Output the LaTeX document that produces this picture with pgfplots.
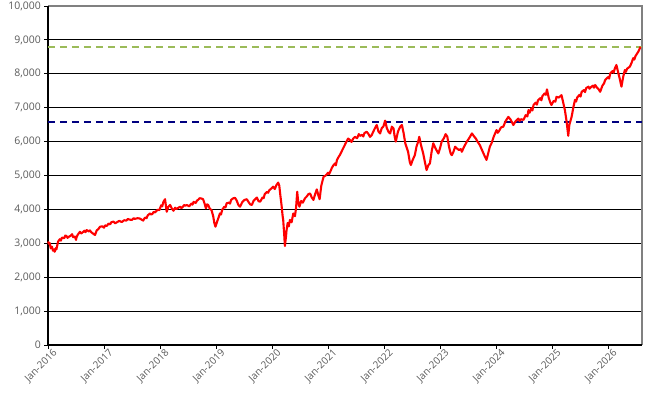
\documentclass[border=0pt]{standalone}
\usepackage{pgfplots}
\pgfplotsset{compat=1.18}
\usepackage{fontspec}
\setmainfont{Open Sans}
\definecolor{lbl}{HTML}{595959}
\definecolor{olivedash}{HTML}{9BBB59}
\definecolor{navydash}{HTML}{000080}
\begin{document}
\begin{tikzpicture}
\path[use as bounding box] (-48bp,-64bp) rectangle (613bp,345bp);
\begin{axis}[
  at={(0,0)}, anchor=south west,
  scale only axis, width=594bp, height=339bp,
  xmin=2016, xmax=2026.607, ymin=0, ymax=10000,
  xtick={2016,2017,2018,2019,2020,2021,2022,2023,2024,2025,2026},
  xticklabels={Jan-2016,Jan-2017,Jan-2018,Jan-2019,Jan-2020,Jan-2021,Jan-2022,Jan-2023,Jan-2024,Jan-2025,Jan-2026},
  x tick label style={rotate=45, anchor=north east, font=\fontsize{10}{12}\selectfont, text=lbl, inner sep=0.5pt, xshift=4bp, yshift=-2bp},
  ytick={0,1000,...,10000},
  y tick label style={font=\fontsize{10.5}{12}\selectfont, text=lbl, inner sep=1pt, xshift=-2bp},
  scaled y ticks=false,
  /pgf/number format/.cd, 1000 sep={,}, assume math mode=true,
  /pgfplots/.cd,
  ymajorgrids, grid style={black, line width=0.8bp},
  tick align=outside, major tick length=4bp,
  tick style={black, line width=0.8bp},
  xtick pos=bottom, ytick pos=left,
  axis line style={draw=none},
  clip=false,
]
\draw[black!50, line width=1.6bp] (rel axis cs:0,1) -- (rel axis cs:1,1) -- (rel axis cs:1,0);
\draw[black, line width=1.6bp] (rel axis cs:0,1) -- (rel axis cs:0,0) -- (rel axis cs:1,0);
\addplot[olivedash, line width=1.8bp, dash pattern=on 7bp off 5bp] coordinates {(2016,8780) (2026.607,8780)};
\addplot[navydash, line width=1.8bp, dash pattern=on 7bp off 5bp] coordinates {(2016,6580) (2026.607,6580)};
\addplot[red, line width=2.1bp, line join=round] table {
x y
2016.00 3050
2016.02 2980
2016.03 3010
2016.05 2850
2016.07 2900
2016.09 2780
2016.11 2820
2016.12 2750
2016.14 2860
2016.15 2820
2016.18 3050
2016.21 3120
2016.23 3080
2016.25 3170
2016.29 3150
2016.31 3230
2016.33 3215
2016.35 3160
2016.37 3190
2016.41 3230
2016.43 3270
2016.45 3180
2016.48 3200
2016.50 3100
2016.51 3180
2016.53 3250
2016.57 3340
2016.59 3290
2016.61 3310
2016.65 3370
2016.67 3330
2016.69 3390
2016.73 3350
2016.75 3380
2016.77 3330
2016.81 3280
2016.84 3245
2016.87 3380
2016.90 3420
2016.93 3490
2016.97 3500
2017.00 3460
2017.02 3530
2017.05 3510
2017.08 3580
2017.11 3560
2017.13 3620
2017.17 3640
2017.20 3590
2017.22 3610
2017.27 3660
2017.30 3640
2017.32 3630
2017.36 3680
2017.40 3670
2017.43 3720
2017.45 3700
2017.50 3690
2017.53 3740
2017.55 3720
2017.60 3740
2017.64 3730
2017.67 3700
2017.70 3670
2017.72 3730
2017.74 3760
2017.76 3740
2017.78 3820
2017.82 3880
2017.84 3850
2017.86 3860
2017.89 3930
2017.91 3910
2017.96 3990
2017.99 3980
2018.02 4120
2018.04 4090
2018.06 4220
2018.09 4300
2018.11 4050
2018.12 3930
2018.15 4080
2018.18 4130
2018.21 4030
2018.24 3960
2018.27 4050
2018.29 4010
2018.31 4030
2018.36 4080
2018.38 4040
2018.40 4060
2018.43 4130
2018.45 4110
2018.48 4130
2018.52 4090
2018.56 4170
2018.58 4140
2018.60 4220
2018.64 4190
2018.66 4260
2018.68 4280
2018.71 4330
2018.74 4320
2018.77 4300
2018.80 4150
2018.82 4030
2018.84 4150
2018.86 4130
2018.89 4020
2018.92 3980
2018.95 3800
2018.97 3600
2018.99 3490
2019.02 3640
2019.05 3780
2019.07 3880
2019.09 3850
2019.11 3990
2019.15 4080
2019.17 4060
2019.19 4180
2019.23 4200
2019.25 4170
2019.27 4280
2019.31 4330
2019.34 4340
2019.37 4260
2019.40 4130
2019.43 4080
2019.47 4220
2019.51 4280
2019.55 4300
2019.58 4220
2019.61 4150
2019.64 4130
2019.67 4250
2019.70 4300
2019.73 4350
2019.76 4240
2019.79 4230
2019.83 4350
2019.85 4330
2019.87 4450
2019.91 4520
2019.93 4490
2019.95 4560
2019.99 4620
2020.02 4670
2020.05 4600
2020.08 4720
2020.11 4790
2020.13 4700
2020.15 4400
2020.17 4130
2020.19 3800
2020.20 3690
2020.22 3200
2020.23 2920
2020.25 3200
2020.26 3390
2020.28 3600
2020.30 3500
2020.32 3690
2020.35 3620
2020.38 3880
2020.41 3800
2020.43 4050
2020.45 4520
2020.47 4200
2020.49 4080
2020.52 4250
2020.55 4200
2020.59 4330
2020.62 4380
2020.65 4450
2020.68 4470
2020.71 4350
2020.74 4280
2020.77 4450
2020.80 4590
2020.83 4400
2020.85 4300
2020.88 4700
2020.92 4960
2020.96 5000
2021.00 5080
2021.02 5040
2021.04 5110
2021.07 5230
2021.10 5310
2021.13 5360
2021.14 5300
2021.16 5460
2021.19 5550
2021.21 5600
2021.24 5700
2021.27 5800
2021.30 5900
2021.33 6000
2021.36 6090
2021.39 6050
2021.42 5990
2021.45 6090
2021.48 6140
2021.52 6100
2021.55 6220
2021.57 6170
2021.61 6200
2021.63 6150
2021.65 6250
2021.69 6290
2021.72 6230
2021.75 6140
2021.78 6190
2021.81 6300
2021.84 6400
2021.87 6490
2021.90 6300
2021.93 6240
2021.96 6400
2021.99 6450
2022.02 6620
2022.05 6400
2022.08 6290
2022.11 6240
2022.14 6440
2022.17 6390
2022.19 6150
2022.21 6000
2022.25 6300
2022.29 6440
2022.32 6490
2022.35 6250
2022.38 5950
2022.41 5800
2022.43 5700
2022.46 5400
2022.48 5310
2022.51 5450
2022.55 5600
2022.58 5850
2022.61 6000
2022.63 6140
2022.66 5900
2022.70 5650
2022.73 5400
2022.76 5160
2022.79 5300
2022.82 5360
2022.85 5700
2022.88 5950
2022.92 5800
2022.97 5650
2023.00 5800
2023.03 6000
2023.07 6100
2023.10 6220
2023.13 6150
2023.16 5850
2023.19 5650
2023.21 5600
2023.24 5700
2023.27 5850
2023.30 5800
2023.34 5750
2023.37 5780
2023.39 5700
2023.43 5850
2023.48 6000
2023.52 6100
2023.57 6240
2023.61 6150
2023.64 6090
2023.67 6000
2023.71 5900
2023.75 5750
2023.79 5600
2023.83 5460
2023.86 5650
2023.89 5850
2023.92 5950
2023.96 6150
2024.01 6340
2024.03 6260
2024.05 6300
2024.09 6420
2024.13 6440
2024.15 6520
2024.17 6600
2024.22 6730
2024.26 6650
2024.31 6490
2024.35 6600
2024.40 6680
2024.42 6610
2024.45 6660
2024.49 6640
2024.53 6780
2024.56 6740
2024.58 6930
2024.60 6850
2024.63 6980
2024.65 6920
2024.67 7080
2024.71 7150
2024.73 7090
2024.75 7220
2024.79 7280
2024.81 7220
2024.83 7350
2024.87 7420
2024.89 7380
2024.91 7540
2024.94 7300
2024.97 7150
2024.99 7080
2025.03 7200
2025.06 7180
2025.08 7320
2025.12 7300
2025.17 7370
2025.20 7150
2025.23 6930
2025.26 6600
2025.29 6170
2025.31 6500
2025.35 6730
2025.38 7000
2025.41 7230
2025.43 7180
2025.45 7300
2025.49 7380
2025.51 7330
2025.53 7470
2025.57 7520
2025.59 7460
2025.61 7580
2025.65 7620
2025.67 7560
2025.69 7600
2025.73 7650
2025.75 7590
2025.77 7670
2025.80 7600
2025.83 7550
2025.86 7470
2025.90 7650
2025.93 7720
2025.95 7820
2026.00 7900
2026.02 7860
2026.04 8010
2026.08 8080
2026.10 8030
2026.12 8150
2026.15 8260
2026.18 8050
2026.21 7850
2026.24 7620
2026.27 7900
2026.30 8110
2026.32 8060
2026.34 8150
2026.39 8210
2026.42 8320
2026.45 8460
2026.47 8420
2026.49 8520
2026.52 8600
2026.54 8650
2026.56 8720
2026.58 8800
};
\end{axis}
\end{tikzpicture}
\end{document}
